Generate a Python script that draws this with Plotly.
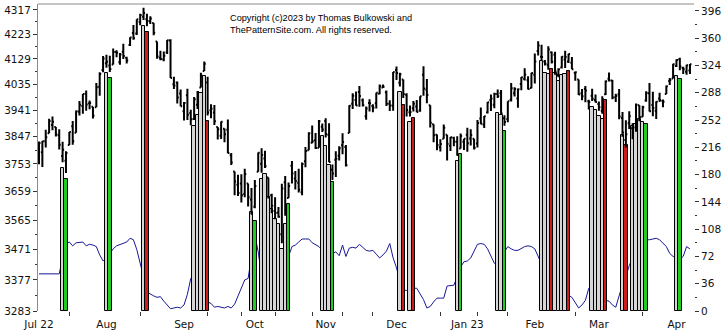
import math
import pandas as pd
import plotly.graph_objects as go

# ---- S&P 500 daily bars, Jul 2022 - Apr 2023 -------------------------------
market_holidays = ["2022-07-04", "2022-09-05", "2022-11-24", "2022-12-26",
                   "2023-01-02", "2023-01-16", "2023-02-20", "2023-04-07"]
trading_days = [d.strftime("%Y-%m-%d")
                for d in pd.bdate_range("2022-07-01", "2023-04-10")
                if d.strftime("%Y-%m-%d") not in market_holidays]

opens = [
    # Jul
    3781.0, 3792.6, 3831.0, 3858.9, 3888.3, 3880.9, 3851.9, 3779.7, 3763.9, 3818.0,
    3883.8, 3860.7, 3935.3, 3955.5, 4000.2, 3965.7, 3953.2, 3951.4, 4026.1, 4087.3,
    # Aug
    4112.4, 4104.2, 4107.9, 4154.9, 4115.9, 4155.9, 4133.1, 4181.0, 4227.4, 4225.0,
    4269.4, 4290.5, 4280.4, 4273.1, 4266.3, 4195.1, 4133.1, 4126.6, 4153.3, 4198.7,
    4034.6, 4041.3, 4000.7,
    # Sep
    3936.7, 3994.7, 3930.9, 3909.4, 3959.9, 4022.9, 4083.7, 4041.2, 3940.7, 3932.4,
    3880.9, 3849.9, 3875.2, 3871.4, 3782.4, 3727.1, 3682.7, 3686.4, 3651.9, 3687.0,
    3633.5,
    # Oct
    3609.8, 3726.5, 3753.3, 3771.0, 3706.7, 3647.5, 3595.9, 3590.8, 3520.4, 3690.4,
    3638.7, 3746.3, 3703.1, 3689.1, 3657.1, 3762.0, 3799.4, 3825.9, 3834.7, 3808.3,
    3881.9,
    # Nov
    3901.8, 3852.9, 3733.3, 3766.7, 3780.7, 3817.0, 3810.9, 3859.9, 3963.7, 3977.0,
    4006.4, 3976.8, 3919.3, 3966.4, 3956.2, 3965.5, 4000.3, 4023.3, 4005.4, 3964.0,
    3957.2,
    # Dec
    4087.1, 4040.2, 4052.0, 3996.6, 3933.3, 3947.8, 3954.2, 3939.3, 4069.4, 4015.5,
    3958.4, 3890.9, 3853.8, 3810.5, 3839.5, 3853.3, 3815.1, 3843.3, 3829.6, 3805.5,
    3829.1,
    # Jan
    3853.3, 3840.4, 3839.7, 3823.4, 3910.8, 3888.6, 3932.4, 3977.6, 3960.6, 3999.3,
    4002.3, 3911.8, 3909.0, 3978.1, 4001.7, 3982.7, 4036.1, 4053.7, 4049.3, 4020.9,
    # Feb
    4070.1, 4158.7, 4136.7, 4119.6, 4105.4, 4153.5, 4144.3, 4068.9, 4096.6, 4126.7,
    4119.5, 4114.8, 4077.4, 4052.4, 4001.8, 4018.6, 3973.2, 3992.4, 3977.2,
    # Mar
    3963.3, 3938.7, 3998.0, 4055.2, 4048.3, 3987.6, 3998.7, 3912.8, 3835.1, 3894.0,
    3876.7, 3878.9, 3958.7, 3917.5, 3975.9, 4002.0, 3959.2, 3939.2, 3982.9, 3974.1,
    3999.5, 4046.7, 4056.2,
    # Apr
    4102.2, 4128.0, 4094.5, 4081.2, 4085.2,
]
highs = [
    3829.8, 3832.2, 3870.9, 3910.6, 3918.5, 3880.9, 3873.4, 3829.4, 3796.4, 3863.6,
    3902.4, 3939.8, 3974.1, 3999.3, 4012.4, 3975.3, 3953.2, 4039.6, 4078.9, 4140.2,
    4144.9, 4140.5, 4167.7, 4161.3, 4151.6, 4186.6, 4137.3, 4211.0, 4257.9, 4280.5,
    4301.8, 4325.3, 4302.2, 4292.5, 4266.3, 4195.1, 4159.8, 4156.6, 4200.5, 4203.0,
    4062.0, 4044.9, 4015.4,
    3970.2, 4018.4, 3942.6, 3987.9, 4010.5, 4076.8, 4119.3, 4062.9, 3961.9, 3959.1,
    3880.9, 3900.5, 3876.0, 3907.1, 3790.4, 3727.1, 3715.7, 3717.5, 3736.7, 3687.0,
    3671.4,
    3698.4, 3791.9, 3806.9, 3797.9, 3706.7, 3652.2, 3640.7, 3608.3, 3685.4, 3712.0,
    3689.7, 3762.8, 3728.6, 3736.0, 3757.9, 3810.7, 3862.9, 3886.2, 3859.9, 3905.4,
    3893.7,
    3911.8, 3894.4, 3750.6, 3796.3, 3813.9, 3859.4, 3818.2, 3958.3, 4001.5, 4008.1,
    4028.8, 3983.1, 3954.3, 3979.9, 3962.0, 4003.5, 4033.8, 4034.0, 4012.3, 3976.8,
    4080.1,
    4100.5, 4076.8, 4052.5, 4001.5, 3957.6, 3974.2, 3977.0, 3990.7, 4101.0, 4053.8,
    3958.4, 3890.9, 3854.9, 3838.2, 3889.8, 3853.3, 3845.8, 3846.7, 3848.3, 3858.2,
    3839.9,
    3878.5, 3873.2, 3839.7, 3906.2, 3950.6, 3919.8, 3970.1, 3997.8, 4003.9, 4015.4,
    4014.2, 3922.9, 3972.9, 4039.3, 4023.9, 4019.6, 4061.6, 4094.2, 4063.9, 4077.2,
    4148.9, 4195.4, 4182.4, 4124.6, 4176.5, 4156.9, 4156.2, 4094.4, 4138.9, 4159.8,
    4148.1, 4136.5, 4081.5, 4052.4, 4017.4, 4028.3, 3978.3, 4018.1, 3997.5,
    3971.7, 3990.8, 4048.3, 4078.5, 4050.0, 4000.4, 4017.8, 3934.1, 3905.1, 3937.3,
    3894.3, 3964.5, 3958.9, 3956.6, 4009.1, 4039.5, 4007.7, 3972.7, 4003.8, 3979.2,
    4030.6, 4057.9, 4110.8,
    4127.7, 4133.1, 4099.7, 4107.3, 4109.5,
]
lows = [
    3752.1, 3742.1, 3809.4, 3858.9, 3869.3, 3847.2, 3802.4, 3758.9, 3721.6, 3818.0,
    3818.6, 3860.7, 3922.0, 3927.6, 3938.9, 3944.5, 3910.7, 3951.4, 3992.9, 4079.2,
    4096.0, 4079.8, 4107.9, 4135.4, 4107.3, 4128.9, 4112.1, 4177.3, 4201.4, 4219.8,
    4256.9, 4277.8, 4253.1, 4261.9, 4218.7, 4129.9, 4124.0, 4119.9, 4147.6, 4057.7,
    4017.4, 3965.2, 3954.5,
    3903.7, 3906.2, 3886.8, 3906.0, 3944.8, 4022.9, 4083.7, 3921.7, 3912.1, 3888.3,
    3837.1, 3838.5, 3827.5, 3789.5, 3749.4, 3647.5, 3644.8, 3623.3, 3640.6, 3610.4,
    3584.1,
    3604.9, 3726.5, 3722.7, 3739.2, 3636.7, 3588.1, 3568.5, 3573.9, 3491.6, 3579.7,
    3638.7, 3686.5, 3666.5, 3656.4, 3647.4, 3741.7, 3799.4, 3824.1, 3803.8, 3808.3,
    3863.2,
    3843.8, 3758.7, 3698.2, 3708.8, 3764.7, 3786.3, 3744.2, 3859.9, 3944.8, 3956.4,
    3953.2, 3954.3, 3906.5, 3935.9, 3933.3, 3947.0, 3998.7, 4020.8, 3955.8, 3937.7,
    3938.6,
    4050.9, 4026.6, 3984.5, 3918.4, 3918.4, 3935.8, 3933.0, 3935.3, 3993.0, 3965.6,
    3879.5, 3827.9, 3800.0, 3795.6, 3839.5, 3764.5, 3797.0, 3813.2, 3780.8, 3805.5,
    3800.3,
    3794.3, 3815.8, 3802.4, 3809.6, 3890.4, 3877.3, 3928.5, 3937.6, 3947.7, 3984.6,
    3926.6, 3885.5, 3897.9, 3971.6, 3989.8, 3949.1, 4013.3, 4048.7, 4015.6, 4020.4,
    4037.2, 4141.9, 4123.4, 4103.9, 4088.4, 4111.7, 4069.7, 4060.8, 4092.7, 4095.0,
    4113.5, 4089.9, 4047.9, 3995.2, 3976.9, 3969.2, 3943.1, 3973.6, 3968.2,
    3939.1, 3928.2, 3995.2, 4044.6, 3980.3, 3969.8, 3908.7, 3846.3, 3808.9, 3873.6,
    3838.2, 3864.1, 3901.3, 3916.9, 3971.2, 3936.2, 3919.1, 3909.2, 3970.5, 3951.5,
    3999.5, 4032.1, 4056.2,
    4098.8, 4086.9, 4072.6, 4069.8, 4072.6,
]
closes = [
    3825.3, 3831.4, 3845.1, 3902.6, 3899.4, 3854.4, 3818.8, 3801.8, 3790.4, 3863.2,
    3830.9, 3936.7, 3959.9, 3998.9, 3961.6, 3966.8, 3921.1, 4023.6, 4072.4, 4130.3,
    4118.6, 4091.2, 4155.2, 4151.9, 4145.2, 4140.1, 4122.5, 4210.2, 4207.3, 4280.2,
    4297.1, 4305.2, 4274.0, 4283.7, 4228.5, 4138.0, 4128.7, 4140.8, 4199.1, 4057.7,
    4030.6, 3986.2, 3955.0,
    3966.9, 3924.3, 3908.2, 3979.9, 4006.2, 4067.4, 4110.4, 3932.7, 3946.0, 3901.4,
    3873.3, 3899.9, 3855.9, 3789.9, 3758.0, 3693.2, 3655.0, 3647.3, 3719.0, 3640.5,
    3585.6,
    3678.4, 3790.9, 3783.3, 3744.5, 3639.7, 3612.4, 3588.8, 3577.0, 3669.9, 3583.1,
    3678.0, 3720.0, 3695.2, 3665.8, 3752.8, 3797.3, 3859.1, 3830.6, 3807.3, 3901.1,
    3872.0,
    3856.1, 3759.7, 3719.9, 3770.6, 3806.8, 3828.1, 3748.6, 3956.4, 3992.9, 3957.3,
    3991.7, 3958.8, 3946.6, 3965.3, 3949.9, 4003.6, 4027.3, 4026.1, 3963.9, 3957.6,
    4080.1,
    4076.6, 4071.7, 3998.8, 3941.3, 3933.9, 3963.5, 3934.4, 3990.6, 4019.7, 3995.3,
    3895.8, 3852.4, 3817.7, 3821.6, 3878.4, 3822.4, 3844.8, 3829.3, 3783.2, 3849.3,
    3839.5,
    3824.1, 3853.0, 3808.1, 3895.1, 3892.1, 3919.3, 3969.6, 3983.2, 3999.1, 3991.0,
    3928.9, 3898.9, 3972.6, 4019.8, 4017.0, 4016.2, 4060.4, 4070.6, 4017.8, 4076.6,
    4119.2, 4179.8, 4136.5, 4111.1, 4164.0, 4117.9, 4081.5, 4090.5, 4137.3, 4136.1,
    4147.6, 4090.4, 4079.1, 3997.3, 3991.1, 4012.3, 3970.0, 3982.2, 3970.2,
    3951.4, 3981.4, 4045.6, 4048.4, 3986.4, 3992.0, 3918.3, 3861.6, 3855.8, 3919.3,
    3891.9, 3960.3, 3916.6, 3951.6, 4002.9, 3937.0, 3948.7, 3971.0, 3977.5, 3971.3,
    4027.8, 4050.8, 4109.3,
    4124.5, 4100.6, 4090.4, 4105.0, 4109.1,
]

# Indicator line (right-hand scale)
indicator = [
    49, 49, 49, 49, 49, 49, 49, 70, 89, 91, 86, 90, 91, 91, 86, 88, 87, 85, 74, 66,
    70, 76, 82, 86, 88, 90, 91, 96, 94, 81, 64, 45, 25, 22, 20, 18, 19, 13, 8, 3, 4, 5, 4,
    8, 22, 43, 45, 35, 25, 18, 12, 10, 5, 6, 5, 4, 6, 4, 9, 20, 32, 41, 43, 70,
    100, 78, 45, 35, 30, 25, 22, 20, 30, 50, 72, 85, 87, 91, 95, 95, 95, 90, 87, 85, 80,
    76, 74, 76, 78, 73, 87, 72, 83, 84, 83, 88, 84, 80, 79, 80, 75, 70, 74, 79, 89, 70,
    57, 40, 28, 27, 28, 30, 30, 22, 15, 4, 6, 12, 17, 17, 17, 33, 34, 34, 45, 58, 65,
    66, 70, 80, 88, 89, 88, 82, 72, 63, 62, 68, 78, 85, 82, 80, 80, 83, 85, 86, 85,
    82, 72, 60, 52, 45, 40, 36, 32, 28, 24, 21, 18, 11, 4, 8, 14, 30, 33, 28,
    22, 17, 14, 13, 8, 5, 20, 35, 45, 60, 70, 78, 84, 90, 94, 94, 95, 96, 94, 90, 85, 76, 72,
    70, 68, 72, 85, 82,
]

# Highlighted sessions: date, bar top (price scale) and kind
mark_dates = [
    "2022-07-13", "2022-07-14", "2022-08-01", "2022-08-02", "2022-08-16", "2022-08-17",
    "2022-09-07", "2022-09-08", "2022-09-09", "2022-09-12", "2022-09-13",
    "2022-09-30", "2022-10-03",
    "2022-10-05", "2022-10-06", "2022-10-07", "2022-10-10", "2022-10-11", "2022-10-12",
    "2022-10-13", "2022-10-14", "2022-10-17",
    "2022-10-31", "2022-11-01", "2022-11-02", "2022-11-03",
    "2022-12-02", "2022-12-05", "2022-12-07", "2022-12-08",
    "2022-12-28", "2022-12-29",
    "2023-01-17", "2023-01-18", "2023-01-19",
    "2023-02-03", "2023-02-06", "2023-02-07", "2023-02-08", "2023-02-09", "2023-02-10",
    "2023-02-13", "2023-02-14", "2023-02-15",
    "2023-02-27", "2023-02-28", "2023-03-01", "2023-03-02", "2023-03-03",
    "2023-03-10", "2023-03-13",
    "2023-03-15", "2023-03-16", "2023-03-17", "2023-03-20", "2023-03-21",
    "2023-04-03", "2023-04-04",
]
mark_tops = [
    3739, 3703, 4075, 4057, 4255, 4231,
    3886, 3925, 4004, 4065, 3901,
    3592, 3564,
    3702, 3719, 3640, 3601, 3568, 3552, 3474, 3552, 3618,
    3850, 3815, 3750, 3690,
    4007, 3961, 3900, 3914,
    3763, 3787,
    3929, 3922, 3866,
    4121, 4078, 4071, 4090, 4076, 4047, 4069, 4072, 4084,
    3953, 3940, 3919, 3909, 3976,
    3852, 3818,
    3883, 3893, 3911, 3900, 3890,
    4066, 4054,
]
mark_kinds = [
    "setup", "up", "setup", "up", "setup", "down",
    "setup", "setup", "setup", "setup", "down",
    "setup", "up",
    "setup", "setup", "setup", "setup", "setup", "setup", "setup", "setup", "up",
    "setup", "setup", "setup", "up",
    "setup", "down", "setup", "down",
    "setup", "up",
    "setup", "setup", "up",
    "setup", "setup", "setup", "down", "setup", "setup", "setup", "setup", "down",
    "setup", "setup", "setup", "setup", "down",
    "setup", "down",
    "setup", "setup", "setup", "setup", "up",
    "setup", "up",
]

# Axis labelling
month_dates = ["2022-07-01", "2022-08-01", "2022-09-01", "2022-10-03", "2022-11-01",
               "2022-12-01", "2023-01-03", "2023-02-01", "2023-03-01", "2023-04-03"]
month_labels = ["Jul 22", "Aug", "Sep", "Oct", "Nov", "Dec", "Jan 23", "Feb", "Mar", "Apr"]
minor_dates = ["2022-07-15", "2022-08-15", "2022-09-13", "2022-09-27", "2022-10-11",
               "2022-10-26", "2022-11-08", "2022-11-21", "2022-12-20", "2023-01-06",
               "2023-01-20", "2023-02-17", "2023-03-20"]
price_ticks = [3283, 3377, 3471, 3565, 3659, 3753, 3847, 3941, 4035, 4129, 4223, 4317]
indicator_ticks = [0, 36, 72, 108, 144, 180, 216, 252, 288, 324, 360, 396]

# ---------------------------------------------------------------------------
pos = {d: i for i, d in enumerate(trading_days)}
x = list(range(len(trading_days)))
price_floor = price_ticks[0]
price_ceiling = 4340.3

fig = go.Figure()

# indicator line sits on the base axis, so everything else draws over it
fig.add_trace(go.Scatter(
    x=x, y=indicator, mode="lines", yaxis="y", xaxis="x",
    line=dict(color="rgb(24,24,150)", width=1), hoverinfo="skip", showlegend=False))

kind_colors = {"setup": "#d6d6d6", "up": "#1fcc1f", "down": "#cc1c1c"}
for kind, color in kind_colors.items():
    sel = [i for i, k in enumerate(mark_kinds) if k == kind]
    fig.add_trace(go.Bar(
        x=[pos[mark_dates[i]] for i in sel],
        y=[mark_tops[i] - price_floor for i in sel],
        base=[price_floor] * len(sel),
        width=1.0, yaxis="y2", xaxis="x",
        marker=dict(color=color, line=dict(color="black", width=1)),
        hoverinfo="skip", showlegend=False))

fig.add_trace(go.Ohlc(
    x=x, open=opens, high=highs, low=lows, close=closes,
    yaxis="y2", xaxis="x", tickwidth=0.45,
    increasing=dict(line=dict(color="black", width=2)),
    decreasing=dict(line=dict(color="black", width=2)),
    hoverinfo="skip", showlegend=False))

tick_font = dict(family="DejaVu Sans", size=10.5, color="#111111")

fig.update_layout(
    width=725, height=334,
    margin=dict(l=34, r=29, t=4, b=19),
    paper_bgcolor="white", plot_bgcolor="white",
    barmode="overlay", bargap=0,
    showlegend=False,
    xaxis=dict(
        range=[-0.294, 194.2], rangeslider=dict(visible=False),
        tickmode="array", tickvals=[pos[d] for d in month_dates], ticktext=month_labels,
        ticks="outside", ticklen=3, tickcolor="rgba(0,0,0,0)",
        showgrid=False, zeroline=False, showline=False,
        tickfont=tick_font,
        minor=dict(tickmode="array", tickvals=[pos[d] for d in minor_dates],
                   ticks="outside", ticklen=4, tickcolor="#333333", showgrid=False),
    ),
    yaxis=dict(
        side="right", range=[0, 405.1],
        tickmode="array", tickvals=indicator_ticks,
        ticks="outside", ticklen=4, tickcolor="#333333",
        showgrid=False, zeroline=False, showline=False,
        tickfont=tick_font,
        minor=dict(tickmode="array", tickvals=[v + 18 for v in indicator_ticks[:-1]],
                   ticks="outside", ticklen=2, tickcolor="#333333", showgrid=False),
    ),
    yaxis2=dict(
        overlaying="y", side="left", type="log",
        range=[math.log10(price_floor), math.log10(price_ceiling)],
        tickmode="array", tickvals=price_ticks, ticktext=[str(v) for v in price_ticks],
        ticks="outside", ticklen=4, tickcolor="#333333",
        showgrid=False, zeroline=False,
        showline=True, linecolor="#8a8a8a", linewidth=1,
        tickfont=tick_font,
        minor=dict(tickmode="array", tickvals=[v + 47 for v in price_ticks[:-1]],
                   ticks="outside", ticklen=2, tickcolor="#333333", showgrid=False),
    ),
    shapes=[dict(type="line", xref="paper", yref="paper", x0=0, x1=1, y0=1, y1=1,
                 line=dict(color="#8a8a8a", width=1))],
    annotations=[dict(
        xref="paper", yref="paper", x=0.289, y=0.978, xanchor="left", yanchor="top",
        align="left", showarrow=False,
        text="Copyright (c)2023 by Thomas Bulkowski and<br>ThePatternSite.com. All rights reserved.",
        font=dict(family="Liberation Sans", size=9.2, color="black"))],
)

fig.write_html("out.html")
